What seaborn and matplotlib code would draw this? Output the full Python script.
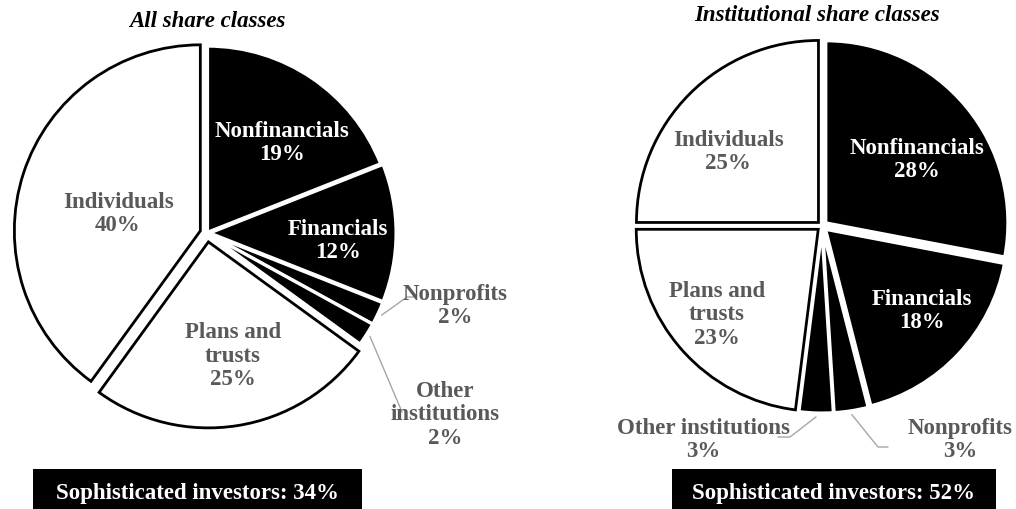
import numpy as np
import matplotlib
matplotlib.use("Agg")
import matplotlib.pyplot as plt
import matplotlib.patches as mpatches
import seaborn as sns

# data
categories = ["Nonfinancials", "Financials", "Nonprofits",
              "Other institutions", "Plans and trusts", "Individuals"]
all_shares = [19, 12, 2, 2, 25, 40]
inst_shares = [28, 18, 3, 3, 23, 25]
sophisticated = [34, 52]
is_sophisticated = [True, True, True, True, False, False]
titles = ["All share classes", "Institutional share classes"]

W, H = 1016, 509


def fy(y):
    """pixel row (from top) to data y"""
    return H - y


sns.set_theme(style="white")
plt.rcParams['font.family'] = ['Liberation Serif', 'DejaVu Serif']
FS = 16.5
GREY = "#595959"

fig = plt.figure(figsize=(W / 100, H / 100), dpi=100)
ax = fig.add_axes([0, 0, 1, 1])

# layout of the two pies: center, radius, explode (pixels), label text, label positions
layouts = [
    dict(values=all_shares, center=(207, 233), r=186,
         explode=[1, 3, 3, 3, 9, 7],
         names=["Nonfinancials", "Financials", "Nonprofits",
                "Other\ninstitutions", "Plans and\ntrusts", "Individuals"],
         pos=[(282, 143), (338, 241), (455, 306), (445, 415), (233, 356), (118, 214)],
         leaders={2: [(407, 297), (415, 297)], 3: [(402, 412)]},
         title_pos=(207, 21), box=(33, 469, 329), box_text_x=197),
    dict(values=inst_shares, center=(822, 226), r=182,
         explode=[5, 5, 5, 5, 5, 5],
         names=["Nonfinancials", "Financials", "Nonprofits",
                "Other institutions", "Plans and\ntrusts", "Individuals"],
         pos=[(917, 160), (922, 311), (960, 440), (703, 440), (717, 315), (728, 152)],
         leaders={2: [(878, 447), (888, 447)], 3: [(790, 437), (778, 437)]},
         title_pos=(817, 15), box=(672, 469, 324), box_text_x=834),
]

colors = ["black" if s else "white" for s in is_sophisticated]

for k, lay in enumerate(layouts):
    wedges, _ = ax.pie(lay["values"], colors=colors, startangle=90, counterclock=False,
                       explode=lay["explode"], radius=lay["r"],
                       center=(lay["center"][0], fy(lay["center"][1])),
                       wedgeprops=dict(linewidth=2.0))
    for w, s in zip(wedges, is_sophisticated):
        w.set_edgecolor("white" if s else "black")
        if s:
            w.set_linewidth(2.2)

    for i, (name, val) in enumerate(zip(lay["names"], lay["values"])):
        x, y = lay["pos"][i]
        inside_black = is_sophisticated[i] and i not in lay["leaders"]
        ax.text(x, fy(y), f"{name}\n{val}%", ha="center", va="center",
                multialignment="center", fontsize=FS, fontweight="bold",
                color="white" if inside_black else GREY, linespacing=1.15)

    # leader lines from wedge edge to outside labels
    for i, pts in lay["leaders"].items():
        w = wedges[i]
        th = np.deg2rad((w.theta1 + w.theta2) / 2)
        sx = w.center[0] + (w.r + 4) * np.cos(th)
        sy = w.center[1] + (w.r + 4) * np.sin(th)
        xs = [sx] + [p[0] for p in pts]
        ys = [sy] + [fy(p[1]) for p in pts]
        ax.plot(xs, ys, color="#a6a6a6", lw=1.0)

    tx, ty = lay["title_pos"]
    ax.text(tx, fy(ty), titles[k], ha="center", va="center", fontsize=FS,
            fontweight="bold", fontstyle="italic", color="black")

    bx, by, bw = lay["box"]
    ax.add_patch(mpatches.Rectangle((bx, fy(by + 45)), bw, 45, facecolor="black",
                                    edgecolor="none"))
    ax.text(lay["box_text_x"], fy(493), f"Sophisticated investors: {sophisticated[k]}%",
            ha="center", va="center", fontsize=FS, fontweight="bold", color="white")

ax.set_xlim(0, W)
ax.set_ylim(0, H)
ax.set_aspect("equal")
ax.axis("off")

fig.savefig("out.png", dpi=100, facecolor="white")
